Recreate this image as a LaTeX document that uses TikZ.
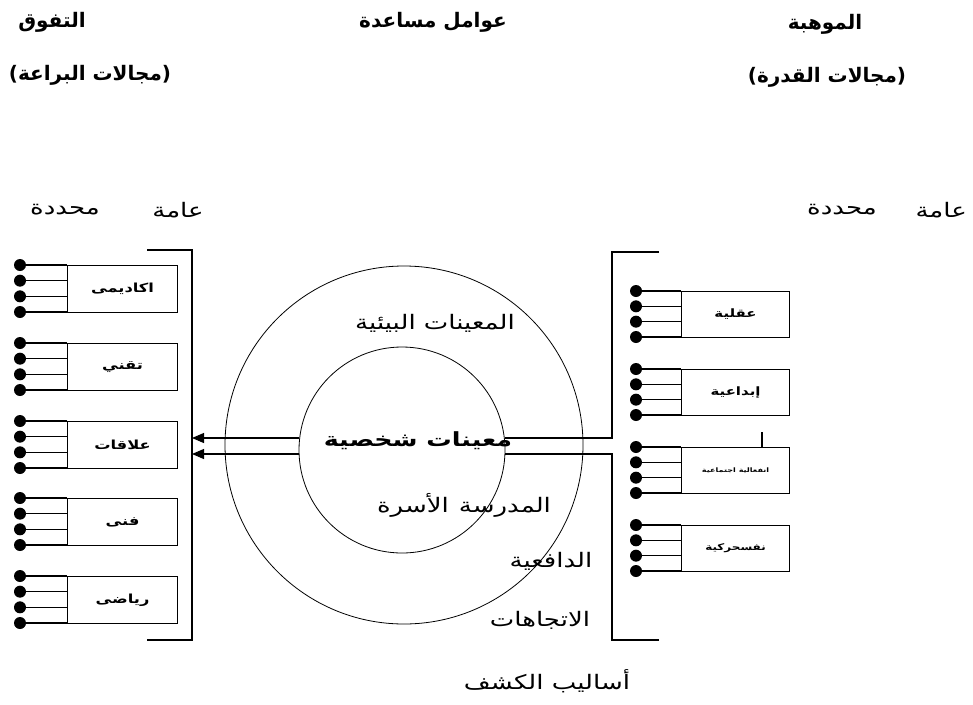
\documentclass[tikz,border=0pt]{standalone}
\usepackage{fontspec}
\newfontfamily\arfont[Script=Arabic]{DejaVu Sans}
\newfontfamily\arwide[Script=Arabic,FakeStretch=1.3]{DejaVu Sans}
\newfontfamily\plainfont{DejaVu Sans}
\TeXXeTstate=1
\usetikzlibrary{arrows.meta}
\newcommand{\artext}[1]{\beginR #1\endR}
\newcommand{\paren}[1]{{\plainfont\bfseries(}\artext{#1}{\plainfont\bfseries)}}
\begin{document}
\begin{tikzpicture}[x=1pt,y=-1pt,
  every node/.style={inner sep=0pt},
  head/.style={font=\arfont\bfseries\fontsize{20}{24}\selectfont},
  lbl/.style={font=\arwide\fontsize{20}{24}\selectfont},
  boxt/.style={font=\arwide\bfseries\fontsize{12.5}{14}\selectfont},
  dom/.style={draw, line width=1.1pt, anchor=north west, inner sep=0pt},
  bead/.style={circle, fill=black, inner sep=0pt, minimum size=12pt},
  ln/.style={line width=1.1pt},
  ring/.style={circle, draw, line width=0.8pt, inner sep=0pt},
  arrowhd/.style={-{Triangle[length=12pt,width=10pt]}}
]
\useasboundingbox (0,0) rectangle (973,704);

% headings
\node[head] (h1) at (52,22) {\artext{التفوق}};
\node[head] (h2) at (90,75) {\paren{مجالات البراعة}};
\node[head] (h3) at (433,22) {\artext{عوامل مساعدة}};
\node[head] (h4) at (825,24) {\artext{الموهبة}};
\node[head] (h5) at (827,77) {\paren{مجالات القدرة}};

\node[lbl] (lg) at (178,210) {\artext{عامة}};
\node[lbl] (ls) at (65,210) {\artext{محددة}};
\node[lbl, anchor=east] (rg) at (967,210) {\artext{عامة}};
\node[lbl] (rs) at (842,210) {\artext{محددة}};

% left boxes
\foreach \n/\t/\txt in {1/265/اكاديمى,2/343/تقني,3/421/علاقات,4/498/فنى,5/576/رياضى}{
  \node[dom, boxt, minimum width=110pt, minimum height=47pt] (L\n) at (67,\t) {\artext{\txt}};
  \foreach \k in {0,1,2,3}{
    \node[bead] (L\n d\k) at (20,{\t+\k*47/3}) {};
    \draw[ln] (L\n d\k.center) -- (L\n d\k.center -| L\n.west);
  }
}

% right boxes
\foreach \n/\t/\txt/\fs in {1/291/عقلية/11.5,2/369/إبداعية/11.5,3/447/انفعالية اجتماعية/6.2,4/525/نفسحركية/9.2}{
  \node[dom, font=\arwide\bfseries\fontsize{\fs}{13}\selectfont, minimum width=108pt, minimum height=46pt] (R\n) at (681,\t) {\artext{\txt}};
  \foreach \k in {0,1,2,3}{
    \node[bead] (R\n d\k) at (636,{\t+\k*46/3}) {};
    \draw[ln] (R\n d\k.center) -- (R\n d\k.center -| R\n.west);
  }
}
\coordinate (tk) at (762,432);
\draw[line width=1.2pt] (tk) -- (tk |- R3.north);

% circles
\node[ring, minimum size=358pt] (outer) at (404,445) {};
\node[ring, minimum size=206pt] (inner) at (402,450) {};

% brackets
\coordinate (LBt1) at (147,250);
\coordinate (LBt2) at (192,250);
\coordinate (LBb2) at (192,640);
\coordinate (LBb1) at (147,640);
\coordinate (LBa) at (192,438);
\coordinate (LBb) at (192,454);
\draw[ln] (LBt1) -- (LBt2) -- (LBb2) -- (LBb1);

\coordinate (RBt1) at (659,252);
\coordinate (RBt2) at (612,252);
\coordinate (RBa) at (612,438);
\coordinate (RBb) at (612,454);
\coordinate (RBb2) at (612,640);
\coordinate (RBb1) at (659,640);
\draw[ln] (RBt1) -- (RBt2) -- (RBa) -- (inner.6.69 |- RBa);
\draw[ln] (RBb1) -- (RBb2) -- (RBb) -- (inner.-2.23 |- RBb);
\draw[ln,arrowhd] (inner.173.31 |- RBa) -- (LBa);
\draw[ln,arrowhd] (inner.182.23 |- RBb) -- (LBb);

% centre texts
\node[lbl] (env) at (435,323) {\artext{المعينات البيئية}};
\node[font=\arwide\bfseries\fontsize{19.5}{23}\selectfont] (pers) at (418,441) {\artext{معينات شخصية}};
\node[lbl] (famsch) at (464,505) {\artext{المدرسة\enspace الأسرة}};
\node[lbl] (motiv) at (551,561) {\artext{الدافعية}};
\node[lbl] (att) at (540,620) {\artext{الاتجاهات}};
\node[lbl] (disc) at (547,681) {\artext{أساليب الكشف}};
\end{tikzpicture}
\end{document}
